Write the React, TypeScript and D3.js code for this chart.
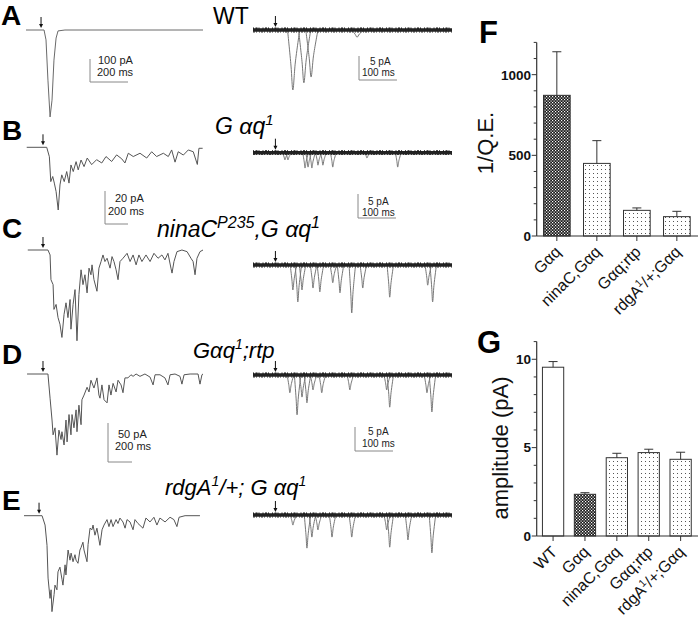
import React from "react";
import * as d3 from "d3";

type P = [number, number];

// ---------- Left column: macroscopic light responses [time ms, current pA] ----------
const traceA: P[] = [[0,0],[102,0],[113,-43],[124,-218],[136,-378],[147,-305],[158,-131],[170,-35],[181,-4],[220,0],[1000,0]];
const traceB: P[] = [[4,0],[117,0],[132,-5.7],[140,-20.8],[151,-17.7],[160,-21.7],[170,-26.8],[182,-38],[192,-22.8],[202,-16.7],[216,-20.8],[230,-14.7],[243,-21.7],[254,-10.7],[267,-14.7],[283,-8.7],[295,-13.7],[311,-7.7],[328,-11.7],[346,-6.5],[371,-10.5],[399,-7.5],[428,-9.5],[452,-5.6],[484,-8.6],[512,-4.6],[541,-7],[559,-9.5],[578,-3.6],[606,-5.6],[644,-3.6],[682,-6.5],[710,-2.7],[738,-5.6],[776,-3.6],[804,-5.6],[823,-1.6],[842,-9],[860,-2.7],[889,-4.7],[917,-1.6],[945,-2.7],[968,-10.4],[977,-0.6],[998,-0.6]];
const traceC: P[] = [[10,0],[124,0],[136,-3],[141,-18],[153,-21],[158,-36],[170,-33],[181,-41],[192,-45],[203,-53],[215,-39],[226,-32],[237,-41],[249,-30],[254,-48],[266,-33],[277,-24],[288,-55],[299,-27],[311,-12],[322,-21],[333,-15],[345,-26],[356,-11],[367,-15],[373,-9],[384,-18],[401,-25],[412,-11],[424,-7],[435,-3],[446,-7],[458,-5],[475,-11],[486,-4],[497,-7],[509,-12],[520,-18],[531,-7],[548,-5],[571,-2],[588,-7],[605,-3],[622,-9],[638,-3],[655,-7],[678,-3],[701,-7],[723,-2],[746,-5],[768,-3],[785,-6],[802,-2],[819,-11],[825,-14],[836,-7],[853,-1],[881,0],[910,-1],[932,-5],[944,-7],[955,-15],[966,-5],[983,-1],[1000,0]];
const traceD: P[] = [[6,0],[124,0],[136,-31],[147,-59],[153,-78],[164,-69],[175,-104],[186,-72],[198,-84],[203,-74],[215,-91],[226,-59],[232,-87],[243,-52],[254,-78],[260,-52],[271,-69],[283,-46],[288,-74],[299,-40],[311,-65],[316,-33],[328,-27],[345,-17],[356,-23],[367,-8],[384,-18],[401,-5],[412,-27],[418,-31],[429,-14],[441,-33],[458,-37],[469,-14],[480,-27],[492,-12],[509,-23],[520,-8],[537,-14],[548,-24],[559,-5],[576,-5],[593,-1],[605,-3],[622,0],[644,-3],[672,0],[701,-4],[718,-14],[729,-1],[757,-1],[785,-5],[802,-14],[814,-1],[842,0],[870,-3],[881,-13],[893,-1],[927,0],[972,0],[983,-13],[994,-1],[1000,0]];
const traceE: P[] = [[0,0],[102,0],[119,-12],[130,-38],[136,-80],[147,-106],[153,-95],[158,-123],[170,-101],[175,-89],[186,-95],[192,-72],[203,-66],[215,-82],[220,-89],[232,-63],[237,-76],[249,-44],[260,-57],[266,-48],[277,-59],[288,-50],[294,-57],[305,-61],[316,-44],[322,-41],[333,-34],[339,-44],[356,-59],[362,-37],[373,-16],[384,-18],[390,-12],[401,-25],[412,-16],[429,-38],[441,-18],[452,-12],[469,-5],[480,-14],[492,-5],[503,-14],[520,-5],[531,-10],[542,-3],[559,-8],[571,-16],[582,-5],[599,-8],[616,-18],[627,-5],[644,-10],[672,-16],[689,-3],[712,-8],[734,-2],[751,-12],[768,-3],[797,-8],[825,-2],[847,-5],[864,-14],[876,-2],[910,0],[994,0]];

// ---------- Right column: quantum bumps [time ms, amplitude pA] ----------
const bumpsA: P[] = [[105,12.5],[134,11],[153,9.8],[274,1.5]];
const bumpsB: P[] = [[84,1.5],[92,1.5],[137,3.2],[145,3.0],[155,3.2],[171,2.6],[184,2.6],[210,3.0],[300,1.1],[381,3.0]];
const bumpsC: P[] = [[105,5.2],[118,7.7],[129,5.2],[158,4.8],[176,5.6],[210,3.7],[229,5.8],[260,10],[289,4.8],[360,6.7],[460,4.2],[473,7.7]];
const bumpsD: P[] = [[97,3.7],[116,8.3],[129,4.6],[142,5.8],[158,3.1],[181,3.7],[255,3.1],[352,3.1],[360,6.7],[458,3.7],[471,7.7]];
const bumpsE: P[] = [[105,2.1],[142,6.9],[155,4.6],[171,3.1],[208,4.6],[260,4.6],[352,3.1],[360,6.7],[408,5.2],[471,7.9]];

// ---------- Bar charts ----------
const fCategories = ["Gαq", "ninaC,Gαq", "Gαq;rtp", "rdgA^{1}/+;Gαq"];
const fMeans = [872, 450, 159, 120];
const fSEM = [270, 141, 15, 33];
const fTicks = [0, 500, 1000];

const gCategories = ["WT", "Gαq", "ninaC,Gαq", "Gαq;rtp", "rdgA^{1}/+;Gαq"];
const gMeans = [9.55, 2.36, 4.43, 4.72, 4.34];
const gSEM = [0.32, 0.09, 0.25, 0.19, 0.4];
const gTicks = [0, 5, 10];

const FONT = "'Liberation Sans', Arial, Helvetica, sans-serif";

function rich(text: string, supSize: number, supDy: number) {
  const parts = text.split(/(\^\{[^}]*\})/).filter((s) => s.length > 0);
  let prevSup = false;
  return parts.map((p, i) => {
    if (p.startsWith("^{")) {
      const inner = p.slice(2, -1);
      const dy = prevSup ? 0 : -supDy;
      prevSup = true;
      return (
        <tspan key={i} dy={dy} fontSize={supSize}>
          {inner}
        </tspan>
      );
    }
    const dy = prevSup ? supDy : 0;
    prevSup = false;
    return (
      <tspan key={i} dy={dy}>
        {p}
      </tspan>
    );
  });
}

const leftPanels = [
  { trace: traceA, base: 30, x0: 26, barPA: 100, barPx: 23, stim: 85, color: "#6a6a6a", sb: { x: 90, y: 59, h: 38, t1: "100 pA", t2: "200 ms", tx1: 98, tx2: 97, ty1: 64, ty2: 76 } },
  { trace: traceB, base: 147.3, x0: 26, barPA: 20, barPx: 33, stim: 96, color: "#555", sb: { x: 105, y: 191, h: 23, t1: "20 pA", t2: "200 ms", tx1: 115, tx2: 108, ty1: 202, ty2: 215 } },
  { trace: traceC, base: 250, x0: 26, barPA: 20, barPx: 33, stim: 96, color: "#555", sb: null },
  { trace: traceD, base: 374, x0: 26, barPA: 50, barPx: 39, stim: 96, color: "#555", sb: { x: 108, y: 423, h: 24, t1: "50 pA", t2: "200 ms", tx1: 118, tx2: 115, ty1: 438, ty2: 450 } },
  { trace: traceE, base: 515.7, x0: 24, barPA: 50, barPx: 39, stim: 85, color: "#555", sb: null },
];

const rightPanels = [
  { bumps: bumpsA, base: 30, rise: 14, decay: 18, sb: { x: 359, y: 56, tx1: 370, tx2: 362, ty1: 65, ty2: 76 } },
  { bumps: bumpsB, base: 152.7, rise: 6, decay: 9, sb: { x: 358, y: 194, tx1: 368, tx2: 362, ty1: 204.5, ty2: 216 } },
  { bumps: bumpsC, base: 265, rise: 7, decay: 10, sb: null },
  { bumps: bumpsD, base: 375, rise: 7, decay: 10, sb: { x: 355, y: 427, tx1: 368, tx2: 362, ty1: 435, ty2: 447 } },
  { bumps: bumpsE, base: 515, rise: 7, decay: 10, sb: null },
];

const panelLetters = [
  { t: "A", x: 1, y: 25 },
  { t: "B", x: 2, y: 140 },
  { t: "C", x: 2, y: 238 },
  { t: "D", x: 2, y: 364 },
  { t: "E", x: 2, y: 510 },
];

const genotypes = [
  { t: "WT", x: 213, y: 24, italic: false, size: 23, sup: 14 },
  { t: "G αq^{1}", x: 215, y: 134, italic: true, size: 23, sup: 15 },
  { t: "ninaC^{P235},G αq^{1}", x: 157, y: 237, italic: true, size: 23, sup: 16 },
  { t: "Gαq^{1};rtp", x: 193, y: 358, italic: true, size: 22, sup: 14 },
  { t: "rdgA^{1}/+; G αq^{1}", x: 165, y: 495, italic: true, size: 22, sup: 14 },
];

const RIGHT_X0 = 253;
const RIGHT_X1 = 452;
const RIGHT_MS = 524;
const RIGHT_STIM = 59;

function Arrow({ x, base }: { x: number; base: number }) {
  return (
    <g stroke="#111" fill="#111">
      <line x1={x} x2={x} y1={base - 13} y2={base - 5} strokeWidth={1} />
      <path d={`M${x - 2},${base - 6} L${x + 2},${base - 6} L${x},${base - 2} Z`} stroke="none" />
    </g>
  );
}

function Traces() {
  const line = d3.line<[number, number]>().x((d) => d[0]).y((d) => d[1]);
  const xR = d3.scaleLinear().domain([0, RIGHT_MS]).range([RIGHT_X0, RIGHT_X1]);
  return (
    <g>
      {leftPanels.map((p, i) => {
        const x = d3.scaleLinear().domain([0, 1000]).range([p.x0, p.x0 + 177]);
        const y = d3.scaleLinear().domain([0, -p.barPA]).range([p.base, p.base + p.barPx]);
        const pts = p.trace.map((d) => [x(d[0]), y(d[1])] as [number, number]);
        const barLen = y(-p.barPA) - y(0);
        return (
          <g key={"l" + i}>
            <path d={line(pts) || ""} fill="none" stroke={p.color} strokeWidth={1} />
            <Arrow x={x(p.stim)} base={p.base} />
            {p.sb && (
              <g>
                <path d={`M${p.sb.x},${p.sb.y} V${p.sb.y + barLen} H${p.sb.x + p.sb.h}`} fill="none" stroke="#888" strokeWidth={1} />
                <text x={p.sb.tx1} y={p.sb.ty1} fontSize={11} fontFamily={FONT} fill="#222">{p.sb.t1}</text>
                <text x={p.sb.tx2} y={p.sb.ty2} fontSize={11} fontFamily={FONT} fill="#222">{p.sb.t2}</text>
              </g>
            )}
          </g>
        );
      })}
      {rightPanels.map((p, i) => {
        const y = d3.scaleLinear().domain([0, -5]).range([p.base, p.base + 24]);
        const bumpLine = d3.line<[number, number]>().x((d) => xR(d[0])).y((d) => y(d[1])).curve(d3.curveCatmullRom);
        const sbLen = y(-5) - y(0);
        const sbW = xR(100) - xR(0);
        return (
          <g key={"r" + i}>
            {p.bumps.map((b, j) => {
              const pts: [number, number][] = [
                [b[0] - p.rise, 0],
                [b[0] - p.rise * 0.35, -b[1] * 0.6],
                [b[0], -b[1]],
                [b[0] + p.decay * 0.35, -b[1] * 0.55],
                [b[0] + p.decay, 0],
              ];
              return <path key={j} d={bumpLine(pts) || ""} fill="none" stroke="#777" strokeWidth={1} />;
            })}
            <line x1={RIGHT_X0} x2={RIGHT_X1} y1={p.base} y2={p.base} stroke="#222" strokeWidth={3.5} />
            <line x1={RIGHT_X0} x2={RIGHT_X1} y1={p.base - 1.8} y2={p.base - 1.8} stroke="#111" strokeWidth={1.2} strokeDasharray="1 1.5 2 1 1 3" />
            <line x1={RIGHT_X0} x2={RIGHT_X1} y1={p.base + 1.8} y2={p.base + 1.8} stroke="#333" strokeWidth={1.2} strokeDasharray="2 1 1 2 1 1" />
            <Arrow x={xR(RIGHT_STIM)} base={p.base - 1} />
            {p.sb && (
              <g>
                <path d={`M${p.sb.x},${p.sb.y} V${p.sb.y + sbLen} H${p.sb.x + sbW}`} fill="none" stroke="#888" strokeWidth={1} />
                <text x={p.sb.tx1} y={p.sb.ty1} fontSize={10} fontFamily={FONT} fill="#222">5 pA</text>
                <text x={p.sb.tx2} y={p.sb.ty2} fontSize={10} fontFamily={FONT} fill="#222">100 ms</text>
              </g>
            )}
          </g>
        );
      })}
    </g>
  );
}

type BarProps = {
  cats: string[];
  means: number[];
  sems: number[];
  fills: string[];
  yMax: number;
  yTop: number;
  yBottom: number;
  ticks: number[];
  minorStep: number;
  outer: number;
  title: string;
  titleX: number;
  titleY: number;
  letter: string;
  letterX: number;
  letterY: number;
};

function BarChart(props: BarProps) {
  const { cats, means, sems, fills, yMax, yTop, yBottom, ticks, minorStep, outer } = props;
  const axisX = 536.7;
  const x = d3.scaleBand<string>().domain(cats).range([axisX, 697]).paddingInner(0.333).paddingOuter(outer);
  const y = d3.scaleLinear().domain([0, yMax]).range([yBottom, yTop]);
  const minors = d3.range(0, yMax + 1e-9, minorStep).filter((v) => !ticks.includes(v));
  const bw = x.bandwidth();
  return (
    <g fontFamily={FONT}>
      {cats.map((c, i) => {
        const x0 = x(c) as number;
        const cx = x0 + bw / 2;
        const top = y(means[i]);
        const err = y(means[i] + sems[i]);
        return (
          <g key={c}>
            <rect x={x0} y={top} width={bw} height={y(0) - top} fill={fills[i]} stroke="#333" strokeWidth={1} />
            <line x1={cx} x2={cx} y1={top} y2={err} stroke="#333" strokeWidth={1} />
            <line x1={cx - 4.5} x2={cx + 4.5} y1={err} y2={err} stroke="#333" strokeWidth={1} />
            <line x1={cx} x2={cx} y1={y(0)} y2={y(0) + 5} stroke="#333" strokeWidth={1} />
            <text transform={`translate(${cx + 5},${y(0) + 17}) rotate(-45)`} textAnchor="end" fontSize={16} fill="#111">
              {rich(c, 10.5, 6)}
            </text>
          </g>
        );
      })}
      <line x1={axisX} x2={axisX} y1={y(0)} y2={y(yMax)} stroke="#333" strokeWidth={1.2} />
      <line x1={axisX} x2={698} y1={y(0)} y2={y(0)} stroke="#333" strokeWidth={1.2} />
      {ticks.map((t) => (
        <g key={"t" + t}>
          <line x1={axisX - 5} x2={axisX} y1={y(t)} y2={y(t)} stroke="#333" strokeWidth={1} />
          <text x={531} y={y(t)} dy="0.36em" textAnchor="end" fontSize={13.5} fontWeight="bold" fill="#111">
            {t}
          </text>
        </g>
      ))}
      {minors.map((t) => (
        <line key={"m" + t} x1={axisX - 3} x2={axisX} y1={y(t)} y2={y(t)} stroke="#333" strokeWidth={1} />
      ))}
      <text transform={`translate(${props.titleX},${props.titleY}) rotate(-90)`} textAnchor="middle" fontSize={22} fill="#111">
        {props.title}
      </text>
      <text x={props.letterX} y={props.letterY} fontSize={31} fontWeight="bold" fill="#000">
        {props.letter}
      </text>
    </g>
  );
}

export default function App() {
  return (
    <svg width={698} height={620} viewBox="0 0 698 620" style={{ position: "absolute", left: 0, top: 0, background: "#fff" }}>
      <defs>
        <pattern id="checker" width={3} height={3} patternUnits="userSpaceOnUse">
          <rect width={3} height={3} fill="#1a1a1a" />
          <rect x={0} y={0} width={1.2} height={1.2} fill="#fff" />
          <rect x={1.5} y={1.5} width={1.2} height={1.2} fill="#fff" />
        </pattern>
        <pattern id="dots" width={4} height={4} patternUnits="userSpaceOnUse">
          <rect width={4} height={4} fill="#fff" />
          <rect x={1} y={1} width={1} height={1} fill="#555" />
        </pattern>
      </defs>
      <rect width={698} height={620} fill="#fff" />
      <Traces />
      <g fontFamily={FONT}>
        {panelLetters.map((l) => (
          <text key={l.t} x={l.x} y={l.y} fontSize={28} fontWeight="bold" fill="#000">
            {l.t}
          </text>
        ))}
        {genotypes.map((g, i) => (
          <text key={i} x={g.x} y={g.y} fontSize={g.size} fontStyle={g.italic ? "italic" : "normal"} fill="#000">
            {rich(g.t, g.sup, 9)}
          </text>
        ))}
      </g>
      <BarChart
        cats={fCategories}
        means={fMeans}
        sems={fSEM}
        fills={["url(#checker)", "url(#dots)", "url(#dots)", "url(#dots)"]}
        yMax={1200}
        yTop={42.4}
        yBottom={236}
        ticks={fTicks}
        minorStep={100}
        outer={0.17}
        title="1/Q.E."
        titleX={493}
        titleY={143}
        letter="F"
        letterX={479}
        letterY={43}
      />
      <BarChart
        cats={gCategories}
        means={gMeans}
        sems={gSEM}
        fills={["#fff", "url(#checker)", "url(#dots)", "url(#dots)", "url(#dots)"]}
        yMax={11}
        yTop={341.6}
        yBottom={536}
        ticks={gTicks}
        minorStep={1}
        outer={0.18}
        title="amplitude (pA)"
        titleX={508}
        titleY={448}
        letter="G"
        letterX={477}
        letterY={353}
      />
    </svg>
  );
}
